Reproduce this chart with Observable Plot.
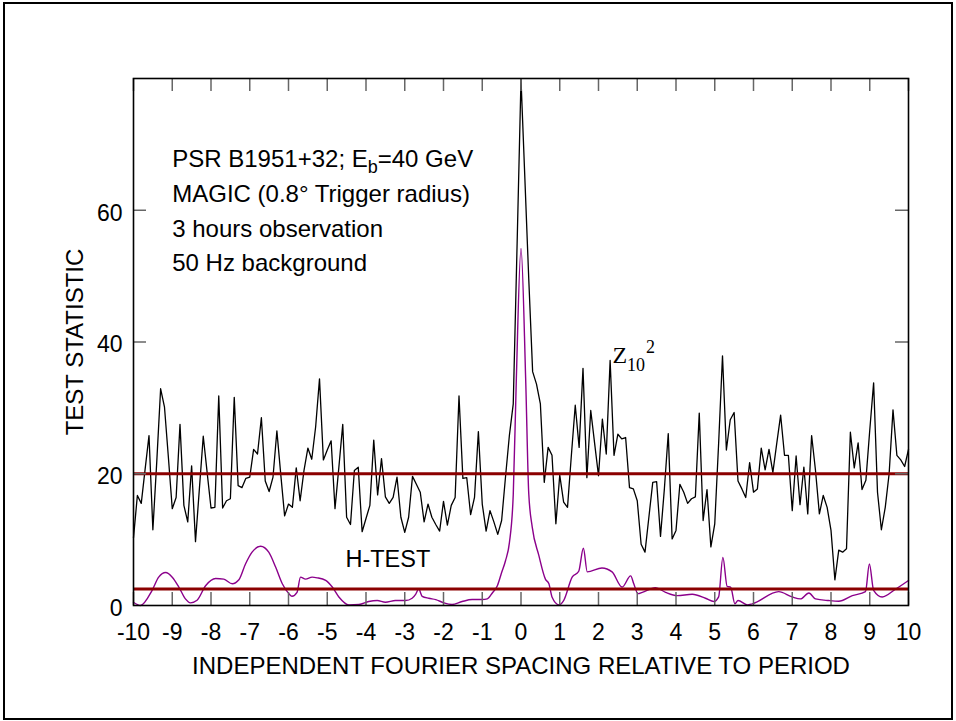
<!DOCTYPE html>
<html><head><meta charset="utf-8">
<script src="https://cdn.jsdelivr.net/npm/d3@7"></script>
<script src="https://cdn.jsdelivr.net/npm/@observablehq/plot@0.6"></script>
<style>html,body{margin:0;padding:0;background:#fff;} #chart{width:956px;height:721px;}</style>
</head><body><div id="chart"></div>
<script>
// Z^2_10 test statistic, sampled every 0.1 independent Fourier spacing from -10 to 10
const zStart = -10;
const zStepTenths = 1;
const zValues = [
  10.3, 16.7, 15.5, 20.7, 25.8, 11.5, 21.8, 32.9, 30.1, 22.5,
  14.7, 16.4, 27.5, 15.2, 12.7, 21.2, 9.7, 17.7, 25.7, 20.2,
  14.8, 14.9, 31.8, 14.8, 15.9, 16.2, 31.6, 18.2, 17.9, 19.3,
  19.5, 23.7, 23.0, 28.5, 18.9, 17.3, 19.5, 26.5, 19.9, 13.6,
  15.4, 14.9, 20.9, 15.9, 20.5, 23.9, 22.2, 27.1, 34.4, 22.1,
  23.6, 25.0, 14.7, 21.0, 27.5, 13.4, 12.3, 20.5, 21.0, 11.2,
  13.2, 15.2, 25.1, 16.8, 22.3, 16.5, 15.5, 16.4, 19.5, 13.4,
  11.1, 13.4, 19.6, 18.4, 17.2, 12.7, 15.4, 13.4, 12.3, 11.3,
  15.8, 12.2, 15.2, 16.4, 31.8, 19.3, 19.4, 13.8, 16.4, 26.4,
  15.4, 11.3, 14.4, 12.7, 10.8, 12.9, 19.5, 25.8, 30.6, 55.0,
  79.9, 64.8, 49.6, 35.5, 33.6, 30.6, 18.7, 24.0, 22.8, 12.4,
  19.8, 15.7, 14.9, 22.8, 30.4, 24.0, 36.0, 19.4, 29.6, 24.6,
  19.7, 28.3, 23.0, 37.2, 22.8, 26.0, 25.3, 25.5, 17.9, 17.7,
  15.9, 9.3, 8.1, 13.4, 18.7, 18.8, 10.5, 17.7, 26.1, 10.1,
  11.4, 18.4, 17.2, 15.5, 16.2, 16.5, 29.2, 12.9, 17.6, 8.9,
  12.4, 24.6, 37.9, 23.6, 28.2, 29.3, 18.9, 17.7, 16.4, 21.7,
  17.2, 17.7, 23.9, 20.6, 23.7, 20.2, 24.6, 28.9, 22.8, 22.8,
  14.4, 22.7, 15.3, 21.0, 13.9, 25.8, 20.5, 13.9, 16.7, 14.9,
  11.4, 3.9, 8.4, 8.1, 8.6, 26.3, 20.9, 24.7, 17.6, 19.0,
  26.6, 33.8, 17.2, 11.5, 14.9, 20.0, 29.7, 22.8, 22.1, 21.1, 23.7
];

// H-test curve
const hX = [
  -10.0, -9.82, -9.52, -9.35, -9.17, -9.0, -8.83, -8.66, -8.53, -8.36,
  -8.14, -7.88, -7.67, -7.45, -7.28, -7.11, -6.94, -6.72, -6.51, -6.33,
  -6.16, -5.99, -5.91, -5.78, -5.69, -5.56, -5.39, -5.26, -5.04, -4.87,
  -4.70, -4.44, -4.18, -3.93, -3.71, -3.50, -3.24, -2.98, -2.81, -2.72,
  -2.64, -2.55, -2.38, -2.20, -1.99, -1.78, -1.52, -1.26, -1.00, -0.87,
  -0.74, -0.61, -0.50, -0.40, -0.30, -0.20, -0.12, 0.0, 0.12, 0.20,
  0.29, 0.46, 0.63, 0.72, 0.80, 0.98, 1.10, 1.32, 1.49, 1.61,
  1.71, 2.09, 2.35, 2.61, 2.83, 2.91, 3.02, 3.13, 3.47, 3.73,
  4.03, 4.42, 4.76, 4.98, 5.10, 5.21, 5.32, 5.41, 5.52, 5.60,
  5.84, 5.97, 6.65, 7.0, 7.21, 7.43, 7.60, 7.94, 8.20, 8.55,
  8.89, 8.99, 9.10, 9.32, 9.67, 10.0
];
const hY = [
  0.5, 0.0, 2.3, 4.3, 5.0, 4.3, 2.8, 1.0, 0.4, 0.8,
  3.0, 4.1, 4.0, 3.3, 3.9, 6.3, 8.1, 9.0, 8.1, 5.8,
  3.3, 1.8, 1.4, 2.0, 4.3, 4.0, 4.3, 4.2, 3.8, 2.8,
  1.3, 0.1, 0.15, 0.6, 0.75, 0.5, 0.75, 0.75, 1.1, 1.7,
  2.5, 1.4, 1.1, 0.9, 0.4, 0.15, 0.6, 0.9, 0.9, 1.0,
  1.9, 3.0, 5.0, 6.8, 9.5, 16.8, 34.5, 54.2, 34.5, 17.0,
  11.9, 7.6, 4.0, 3.3, 1.3, 0.1, 0.75, 4.3, 5.2, 8.7,
  5.1, 5.7, 5.1, 2.8, 4.5, 3.3, 1.8, 2.0, 2.7, 2.0,
  1.5, 1.7, 1.1, 0.6, 1.3, 7.3, 2.9, 2.8, 0.25, 0.75,
  0.1, 0.25, 2.1, 1.3, 1.0, 1.9, 1.0, 0.75, 0.65, 1.5,
  2.1, 6.3, 2.3, 1.3, 2.5, 3.8
];

const thresholds = [20, 2.5];
const xTicks = [-10,-9,-8,-7,-6,-5,-4,-3,-2,-1,0,1,2,3,4,5,6,7,8,9,10];
const xTickLabels = ["-10","-9","-8","-7","-6","-5","-4","-3","-2","-1","0","1","2","3","4","5","6","7","8","9","10"];
const yTicks = [0, 20, 40, 60];
const yTickLabels = ["0", "20", "40", "60"];
const yInnerTicks = [20, 40, 60];
const xTitle = "INDEPENDENT FOURIER SPACING RELATIVE TO PERIOD";
const yTitle = "TEST STATISTIC";
const subscriptLine = ["PSR B1951+32; E", "b", "=40 GeV"];
const notes = [subscriptLine.join(""), "MAGIC (0.8° Trigger radius)", "3 hours observation", "50 Hz background"];
const noteY = [66.5, 61.2, 56.0, 50.8];
const hLabel = "H-TEST";
const zLabel = ["Z", "10", "2"];

const zData = zValues.map((v, i) => ({x: zStart + (i * zStepTenths) / 10, y: v}));
const hData = hX.map((x, i) => ({x, y: hY[i]}));
const xLabelOf = new Map(xTicks.map((t, i) => [t, xTickLabels[i]]));
const yLabelOf = new Map(yTicks.map((t, i) => [t, yTickLabels[i]]));

const W = 956, H = 721, ML = 133, MR = 48, MT = 78, MB = 116;
const plotW = W - ML - MR, plotH = H - MT - MB;
const tickLen = 13;
const tickColor = "#666";

const svg = Plot.plot({
  width: W, height: H,
  marginLeft: ML, marginRight: MR, marginTop: MT, marginBottom: MB,
  x: {domain: [-10, 10]},
  y: {domain: [0, 80]},
  style: {fontFamily: "'Liberation Sans', Arial, sans-serif", fontSize: "23px", background: "#fff", color: "#000"},
  marks: [
    Plot.line(zData, {x: "x", y: "y", stroke: "#000", strokeWidth: 1.3}),
    Plot.line(hData, {x: "x", y: "y", stroke: "#8B008B", strokeWidth: 1.4, curve: "monotone-x"}),
    Plot.ruleY(thresholds, {stroke: "#8B0000", strokeWidth: 3}),
    Plot.tickX(xTicks, {x: d => d, insetTop: plotH - tickLen, stroke: tickColor, strokeWidth: 1.5}),
    Plot.tickX(xTicks, {x: d => d, insetBottom: plotH - tickLen, stroke: tickColor, strokeWidth: 1.5}),
    Plot.tickY(yInnerTicks, {y: d => d, insetRight: plotW - tickLen, stroke: tickColor, strokeWidth: 1.5}),
    Plot.tickY(yInnerTicks, {y: d => d, insetLeft: plotW - tickLen, stroke: tickColor, strokeWidth: 1.5}),
    Plot.frame({stroke: "#000", strokeWidth: 1.6}),
    Plot.axisX(xTicks, {tickSize: 0, tickPadding: 18, tickFormat: d => xLabelOf.get(d), fontSize: 23, label: null}),
    Plot.axisY(yTicks, {tickSize: 0, tickPadding: 11, dy: 3, tickFormat: d => yLabelOf.get(d), fontSize: 23, label: null}),
    Plot.text([xTitle], {frameAnchor: "bottom", textAnchor: "middle", lineAnchor: "middle", dy: 61, fontSize: 24}),
    Plot.text([yTitle], {frameAnchor: "left", textAnchor: "middle", lineAnchor: "middle", dx: -58, rotate: -90, fontSize: 24}),
    Plot.text(notes, {x: -9, y: (d, i) => noteY[i], textAnchor: "start", lineAnchor: "bottom", fontSize: 24}),
    Plot.text([hLabel], {x: -4.53, y: 5.8, textAnchor: "start", lineAnchor: "bottom", fontSize: 23.5}),
    Plot.text([zLabel[0]], {x: 2.36, y: 36.84, textAnchor: "start", lineAnchor: "bottom", fontSize: 24, fontFamily: "'Liberation Serif', 'Times New Roman', serif"})
  ]
});

// rich text: subscript / superscript
d3.select(svg).selectAll("text").each(function () {
  const t = this.textContent;
  if (t === notes[0] && this.childElementCount === 0) {
    this.textContent = subscriptLine[0];
    d3.select(this).append("tspan").attr("dy", 6).attr("font-size", 18).text(subscriptLine[1]);
    d3.select(this).append("tspan").attr("dy", -6).text(subscriptLine[2]);
  } else if (t === zLabel[0] && this.childElementCount === 0) {
    d3.select(this).append("tspan").attr("dy", 7.7).attr("font-size", 18).text(zLabel[1]);
    d3.select(this).append("tspan").attr("dy", -17.3).attr("dx", 1).attr("font-size", 18).text(zLabel[2]);
  }
});

// outer page border
d3.select(svg).append("rect")
  .attr("x", 4).attr("y", 3).attr("width", 948).attr("height", 716)
  .attr("fill", "none").attr("stroke", "#000").attr("stroke-width", 2);

document.getElementById("chart").appendChild(svg);
</script>
</body></html>
